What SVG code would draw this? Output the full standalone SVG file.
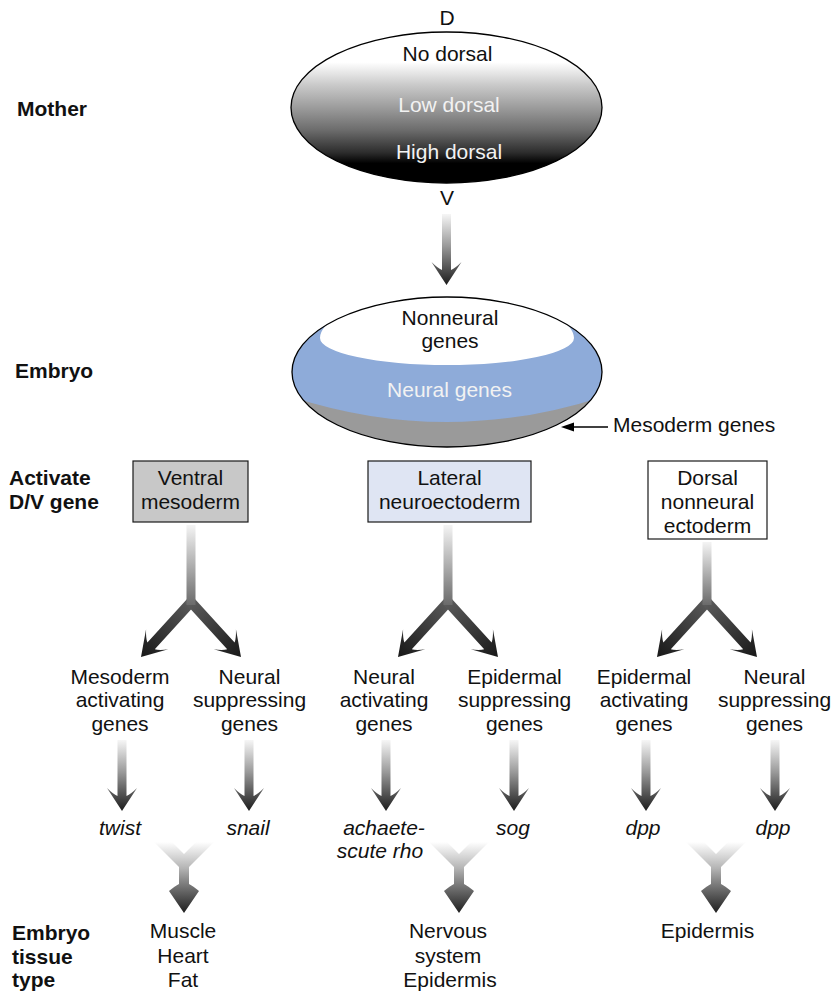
<svg xmlns="http://www.w3.org/2000/svg" xmlns:xlink="http://www.w3.org/1999/xlink" width="838" height="992" viewBox="0 0 838 992">
  <style>
    .t { font-family: "Liberation Sans", Arial, sans-serif; font-size: 21px; fill: #111; text-anchor: middle; }
    .i { font-style: italic; }
    .b { font-weight: bold; text-anchor: start; }
    .lt { fill: #f2f2f2; }
    .box { stroke: #1a1a1a; stroke-width: 1.2; }
  </style>
  <defs>
    <!-- dorsal protein gradient: white dorsal, black ventral -->
    <linearGradient id="gDorsal" x1="0" y1="0" x2="0" y2="1">
      <stop offset="0" stop-color="#ffffff"/>
      <stop offset="0.2" stop-color="#ffffff"/>
      <stop offset="0.35" stop-color="#cacaca"/>
      <stop offset="0.5" stop-color="#9c9c9c"/>
      <stop offset="0.65" stop-color="#6c6c6c"/>
      <stop offset="0.8" stop-color="#2c2c2c"/>
      <stop offset="0.87" stop-color="#000000"/>
      <stop offset="1" stop-color="#000000"/>
    </linearGradient>
    <!-- arrow fills: light tail, dark head -->
    <linearGradient id="gV" x1="0" y1="0" x2="0" y2="1">
      <stop offset="0" stop-color="#f6f6f6"/>
      <stop offset="0.45" stop-color="#9a9a9a"/>
      <stop offset="1" stop-color="#1c1c1c"/>
    </linearGradient>
    <linearGradient id="gD" x1="0" y1="0" x2="0" y2="1">
      <stop offset="0" stop-color="#5e5e5e"/>
      <stop offset="1" stop-color="#181818"/>
    </linearGradient>
    <linearGradient id="gStem" x1="0" y1="0" x2="0" y2="1">
      <stop offset="0" stop-color="#f4f4f4"/>
      <stop offset="1" stop-color="#6a6a6a"/>
    </linearGradient>
    <linearGradient id="gY" x1="0" y1="0" x2="0" y2="1">
      <stop offset="0" stop-color="#ffffff"/>
      <stop offset="0.37" stop-color="#b4b4b4"/>
      <stop offset="0.55" stop-color="#868686"/>
      <stop offset="1" stop-color="#1e1e1e"/>
    </linearGradient>
    <!-- downward arrow, tip at origin -->
    <path id="arrowV" fill="url(#gV)" d="M-4.5,-71 H4.5 V-15 Q9,-17 15,-23 L0,0 L-15,-23 Q-9,-17 -4.5,-15 Z"/>
    <!-- branch arrow, tip at origin, rotated into place -->
    <path id="arrowD" fill="url(#gD)" d="M-5,-78 H5 V-15 Q9,-17 15,-24 L0,0 L-15,-24 Q-9,-17 -5,-15 Z"/>
    <clipPath id="embryoClip">
      <ellipse cx="447" cy="372" rx="155" ry="75"/>
    </clipPath>
  </defs>

  <!-- row labels -->
  <g id="row-labels">
    <text class="t b" x="17" y="116">Mother</text>
    <text class="t b" x="15" y="378">Embryo</text>
    <text class="t b" x="9" y="485">Activate</text>
    <text class="t b" x="9" y="509">D/V gene</text>
    <text class="t b" x="12" y="940">Embryo</text>
    <text class="t b" x="12" y="964">tissue</text>
    <text class="t b" x="12" y="987">type</text>
  </g>

  <!-- maternal dorsal gradient -->
  <g id="mother">
    <ellipse cx="446.5" cy="107.5" rx="155.5" ry="75.5" fill="url(#gDorsal)" stroke="#000" stroke-width="1.3"/>
    <text class="t" x="447" y="25">D</text>
    <text class="t" x="447.5" y="61">No dorsal</text>
    <text class="t lt" x="449" y="112">Low dorsal</text>
    <text class="t lt" x="449" y="159">High dorsal</text>
    <text class="t" x="447" y="205">V</text>
  </g>

  <!-- embryo territories -->
  <g id="embryo">
    <g clip-path="url(#embryoClip)">
      <rect x="280" y="290" width="340" height="170" fill="#8eabd9"/>
      <path d="M272,390 Q447,454 622,390 L622,460 L272,460 Z" fill="#9a9a9a"/>
      <path d="M320,338 A127,27 0 0 0 574,338 C574,330 566,322 556,316 L556,285 L338,285 L338,316 C328,322 320,330 320,338 Z" fill="#ffffff"/>
    </g>
    <ellipse cx="447" cy="372" rx="155" ry="75" fill="none" stroke="#000" stroke-width="1.3"/>
    <text class="t" x="450" y="325">Nonneural</text>
    <text class="t" x="450" y="348">genes</text>
    <text class="t lt" x="449.5" y="397">Neural genes</text>
    <text class="t" x="613" y="432" style="text-anchor:start">Mesoderm genes</text>
  </g>

  <!-- D/V gene boxes -->
  <g id="ventral-mesoderm">
    <rect class="box" x="133" y="461" width="115" height="61" fill="#c8c8c8"/>
    <text class="t" x="190.5" y="485">Ventral</text>
    <text class="t" x="190.5" y="509">mesoderm</text>
  </g>
  <g id="lateral-neuroectoderm">
    <rect class="box" x="368" y="461" width="163" height="61" fill="#dfe5f3"/>
    <text class="t" x="449.5" y="485">Lateral</text>
    <text class="t" x="449.5" y="509">neuroectoderm</text>
  </g>
  <g id="dorsal-ectoderm">
    <rect class="box" x="648" y="461" width="119" height="78" fill="#ffffff"/>
    <text class="t" x="707.5" y="485">Dorsal</text>
    <text class="t" x="707.5" y="509">nonneural</text>
    <text class="t" x="707.5" y="533">ectoderm</text>
  </g>

  <!-- gene classes -->
  <g id="mesoderm-activating">
    <text class="t" x="120" y="684">Mesoderm</text>
    <text class="t" x="120" y="707">activating</text>
    <text class="t" x="120" y="731">genes</text>
  </g>
  <g id="neural-suppressing-v">
    <text class="t" x="249.5" y="684">Neural</text>
    <text class="t" x="249.5" y="707">suppressing</text>
    <text class="t" x="249.5" y="731">genes</text>
  </g>
  <g id="neural-activating">
    <text class="t" x="384" y="684">Neural</text>
    <text class="t" x="384" y="707">activating</text>
    <text class="t" x="384" y="731">genes</text>
  </g>
  <g id="epidermal-suppressing">
    <text class="t" x="514.5" y="684">Epidermal</text>
    <text class="t" x="514.5" y="707">suppressing</text>
    <text class="t" x="514.5" y="731">genes</text>
  </g>
  <g id="epidermal-activating">
    <text class="t" x="644" y="684">Epidermal</text>
    <text class="t" x="644" y="707">activating</text>
    <text class="t" x="644" y="731">genes</text>
  </g>
  <g id="neural-suppressing-d">
    <text class="t" x="774.5" y="684">Neural</text>
    <text class="t" x="774.5" y="707">suppressing</text>
    <text class="t" x="774.5" y="731">genes</text>
  </g>

  <!-- target genes -->
  <g id="twist"><text class="t i" x="120" y="835">twist</text></g>
  <g id="snail"><text class="t i" x="248" y="835">snail</text></g>
  <g id="achaete-scute">
    <text class="t i" x="384" y="835">achaete-</text>
    <text class="t i" x="380" y="858">scute rho</text>
  </g>
  <g id="sog"><text class="t i" x="513" y="835">sog</text></g>
  <g id="dpp-1"><text class="t i" x="643" y="835">dpp</text></g>
  <g id="dpp-2"><text class="t i" x="773" y="835">dpp</text></g>

  <!-- tissue outcomes -->
  <g id="muscle-heart-fat">
    <text class="t" x="183" y="938">Muscle</text>
    <text class="t" x="183" y="963">Heart</text>
    <text class="t" x="183" y="987">Fat</text>
  </g>
  <g id="nervous-epidermis">
    <text class="t" x="448" y="938">Nervous</text>
    <text class="t" x="448" y="963">system</text>
    <text class="t" x="450" y="987">Epidermis</text>
  </g>
  <g id="epidermis">
    <text class="t" x="707.5" y="938">Epidermis</text>
  </g>

  <!-- connectors -->
  <g id="connectors">
    <!-- mother to embryo -->
    <use xlink:href="#arrowV" x="446.5" y="285"/>

    <!-- mesoderm pointer -->
    <line x1="608" y1="427" x2="570" y2="427" stroke="#000" stroke-width="1.3"/>
    <polygon points="561,427 574,422.5 574,431.5" fill="#000"/>

    <!-- branching arrows under each box -->
    <use xlink:href="#arrowD" transform="translate(141,657) rotate(42.3)"/>
    <use xlink:href="#arrowD" transform="translate(241,657) rotate(-42.3)"/>
    <rect x="186.5" y="525" width="9" height="80" fill="url(#gStem)"/>

    <use xlink:href="#arrowD" transform="translate(398,657) rotate(42.3)"/>
    <use xlink:href="#arrowD" transform="translate(498,657) rotate(-42.3)"/>
    <rect x="443.5" y="525" width="9" height="80" fill="url(#gStem)"/>

    <use xlink:href="#arrowD" transform="translate(657,657) rotate(42.3)"/>
    <use xlink:href="#arrowD" transform="translate(757,657) rotate(-42.3)"/>
    <rect x="702.5" y="542" width="9" height="63" fill="url(#gStem)"/>

    <!-- gene class to target gene -->
    <use xlink:href="#arrowV" x="122" y="811"/>
    <use xlink:href="#arrowV" x="249" y="811"/>
    <use xlink:href="#arrowV" x="386" y="811"/>
    <use xlink:href="#arrowV" x="514" y="811"/>
    <use xlink:href="#arrowV" x="646" y="811"/>
    <use xlink:href="#arrowV" x="775" y="811"/>

    <!-- merging arrows into tissues -->
    <path fill="url(#gY)" d="M154,842 H172 L184,854 L196,842 H214 L189,867 V884 Q193,886 199,891 L184,913 L169,891 Q175,886 179,884 V867 Z"/>
    <path fill="url(#gY)" d="M429,842 H447 L459,854 L471,842 H489 L464,867 V884 Q468,886 474,891 L459,913 L444,891 Q450,886 454,884 V867 Z"/>
    <path fill="url(#gY)" d="M686,842 H704 L716,854 L728,842 H746 L721,867 V884 Q725,886 731,891 L716,913 L701,891 Q707,886 711,884 V867 Z"/>
  </g>
</svg>
